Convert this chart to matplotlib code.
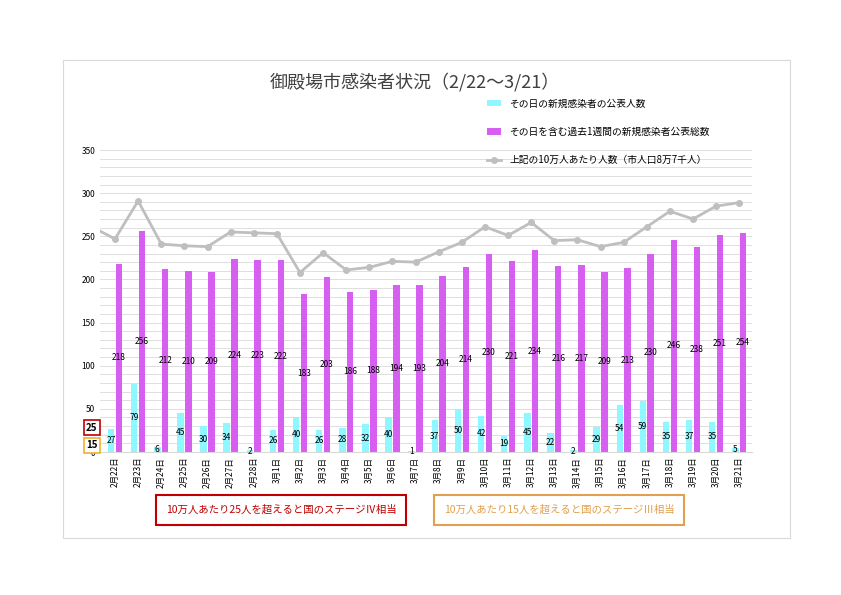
import matplotlib.pyplot as plt
import matplotlib.patches as mpatches
import numpy as np

plt.rcParams['font.family'] = 'Noto Sans CJK JP'

dates = ['2月22日', '2月23日', '2月24日', '2月25日', '2月26日', '2月27日', '2月28日',
         '3月1日', '3月2日', '3月3日', '3月4日', '3月5日', '3月6日', '3月7日',
         '3月8日', '3月9日', '3月10日', '3月11日', '3月12日', '3月13日', '3月14日',
         '3月15日', '3月16日', '3月17日', '3月18日', '3月19日', '3月20日', '3月21日']
daily = [27, 79, 6, 45, 30, 34, 2, 26, 40, 26, 28, 32, 40, 1,
         37, 50, 42, 19, 45, 22, 2, 29, 54, 59, 35, 37, 35, 5]
weekly = [218, 256, 212, 210, 209, 224, 223, 222, 183, 203, 186, 188, 194, 193,
          204, 214, 230, 221, 234, 216, 217, 209, 213, 230, 246, 238, 251, 254]
per100k = [247, 291, 241, 239, 238, 255, 254, 253, 208, 231, 211, 214, 221, 220,
           232, 243, 261, 251, 266, 245, 246, 238, 243, 261, 279, 270, 285, 289]
prev_per100k = 256

fig = plt.figure(figsize=(8.41, 5.95), dpi=100)
fig.patches.append(mpatches.Rectangle((63/841, 1-538/595), 727/841, 478/595,
                                      transform=fig.transFigure, fill=False,
                                      edgecolor='#d9d9d9', lw=0.8))
ax = fig.add_axes([100/841, 1-452/595, 652/841, 302/595])

x = np.arange(len(dates))
w = 0.28
b1 = ax.bar(x - 0.17, daily, w, color='#8ff7ff', zorder=2,
            label='その日の新規感染者の公表人数')
b2 = ax.bar(x + 0.17, weekly, w, color='#d65ef0', zorder=2,
            label='その日を含む過去1週間の新規感染者公表総数')
ln, = ax.plot(np.concatenate([[-0.65], x]), [prev_per100k] + per100k, color='#bfbfbf',
              lw=2, marker='o', markersize=4, markevery=range(1, len(x) + 1), zorder=3,
              label='上記の10万人あたり人数（市人口8万7千人）')
for i in x:
    ax.text(i - 0.17, daily[i] / 2, str(daily[i]), ha='center', va='center', fontsize=6, zorder=4)
    ax.text(i + 0.17, weekly[i] / 2, str(weekly[i]), ha='center', va='center', fontsize=6, zorder=4)

ax.set_xlim(-0.65, len(dates) - 0.45)
ax.set_ylim(0, 350)
ax.set_yticks(range(0, 351, 50))
ax.set_yticks(range(0, 351, 10), minor=True)
ax.tick_params(axis='y', which='both', length=0, labelsize=6)
ax.grid(axis='y', which='both', color='#d9d9d9', lw=0.6, zorder=0)
ax.set_xticks(x)
ax.set_xticklabels(dates, rotation=90, fontsize=6)
ax.tick_params(axis='x', length=0)
for s in ['top', 'right', 'left']:
    ax.spines[s].set_visible(False)
ax.spines['bottom'].set_color('#d9d9d9')

# boxed labels for 25 and 15 (cover the 0 tick label, as in the original)
ax.text(-1.0, 28, '25', ha='center', va='center', fontsize=7, fontweight='bold', zorder=5,
        bbox=dict(boxstyle='square,pad=0.25', fc='white', ec='#c00000', lw=1.2), clip_on=False)
ax.text(-1.0, 8, '15', ha='center', va='center', fontsize=7, fontweight='bold', zorder=5,
        bbox=dict(boxstyle='square,pad=0.25', fc='white', ec='#f0b030', lw=1.2), clip_on=False)

fig.text(415/841, 1-82/595, '御殿場市感染者状況（2/22～3/21）', ha='center', va='center',
         fontsize=13, color='#404040')
ax.legend(handles=[b1, b2, ln], loc='upper left', bbox_to_anchor=(0.58, 1.2), frameon=False,
          fontsize=7, labelspacing=1.9, handlelength=1.5)

fig.text(281/841, 1-510/595, '10万人あたり25人を超えると国のステージⅣ相当', ha='center',
         va='center', fontsize=7.5, color='#c00000',
         bbox=dict(boxstyle='square,pad=0.9', fc='white', ec='#c00000', lw=1.5))
fig.text(559/841, 1-510/595, '10万人あたり15人を超えると国のステージⅢ相当', ha='center',
         va='center', fontsize=7.5, color='#e0a050',
         bbox=dict(boxstyle='square,pad=0.9', fc='white', ec='#e0a050', lw=1.5))

fig.savefig('out.png', dpi=100)
